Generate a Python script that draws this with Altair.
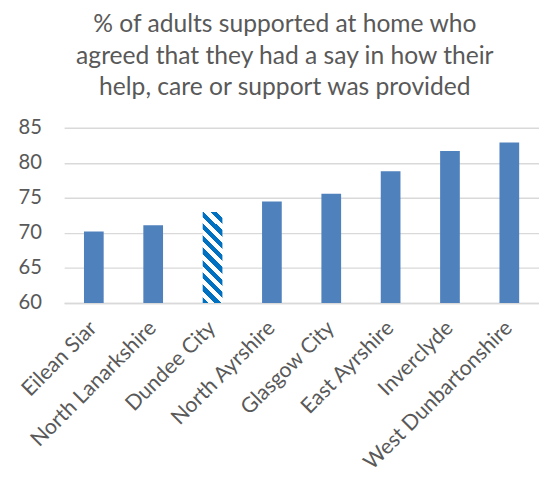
import altair as alt
import pandas as pd

areas = ["Eilean Siar", "North Lanarkshire", "Dundee City", "North Ayrshire",
         "Glasgow City", "East Ayrshire", "Inverclyde", "West Dunbartonshire"]
values = [70.2, 71.1, 73.0, 74.5, 75.6, 78.8, 81.7, 82.9]
highlight = ["Dundee City"]
y_ticks = [60, 65, 70, 75, 80, 85]
title_lines = ["% of adults supported at home who",
               "agreed that they had a say in how their",
               "help, care or support was provided"]

df = pd.DataFrame({"area": areas, "value": values})
df["hl"] = df["area"].isin(highlight)

FONT = "Lato"
GREY = "#595959"

# striped fill for the highlighted bar (hard-stop linear gradient)
w, h = 20.0, 93.0
s = (w + h) / (w * w + h * h)
stops = []
n = 9
for i in range(n):
    a = i / n
    b = (i + 0.5) / n
    c = (i + 1) / n
    stops += [
        alt.GradientStop(offset=a, color="#0070C0"),
        alt.GradientStop(offset=b, color="#0070C0"),
        alt.GradientStop(offset=b, color="#ffffff"),
        alt.GradientStop(offset=c, color="#ffffff"),
    ]
stripes = alt.LinearGradient(gradient="linear", x1=0, y1=1, x2=s * w, y2=1 - s * h, stops=stops)

x_enc = alt.X("area:N", sort=areas, title=None,
              scale=alt.Scale(paddingInner=0.0, paddingOuter=0.0),
              axis=alt.Axis(labelAngle=-45, labelAlign="right", labelBaseline="middle",
                            labelPadding=22, labelFontSize=21.5, labelColor=GREY, labelFont=FONT,
                            ticks=False, domainColor="#d9d9d9", domainWidth=1.5,
                            labelOverlap=False, labelLimit=300))
y_enc = alt.Y("value:Q", title=None,
              scale=alt.Scale(domain=[60, 85], nice=False, zero=False),
              axis=alt.Axis(values=y_ticks, labelFontSize=20.5, labelColor=GREY, labelFont=FONT,
                            labelPadding=23, ticks=False, domain=False,
                            gridColor="#d9d9d9", gridWidth=1.5))

base = alt.Chart(df)
plain = base.transform_filter("!datum.hl").mark_bar(size=20, color="#4F81BD", clip=True).encode(
    x=x_enc, y=y_enc, y2=alt.datum(60))
striped = base.transform_filter("datum.hl").mark_bar(size=20, fill=stripes, clip=True).encode(
    x=x_enc, y=y_enc, y2=alt.datum(60))

chart = alt.layer(plain, striped).properties(
    width=482, height=178,
    padding={"left": 9, "top": 1, "right": 0, "bottom": 0},
    title=alt.TitleParams(text=title_lines, fontSize=25, font=FONT, fontWeight="normal",
                          color=GREY, anchor="middle", frame="group", dx=-17,
                          lineHeight=32, offset=18),
).configure_view(stroke=None)

chart.save("out.html", embed_options={"renderer": "svg", "actions": False})
